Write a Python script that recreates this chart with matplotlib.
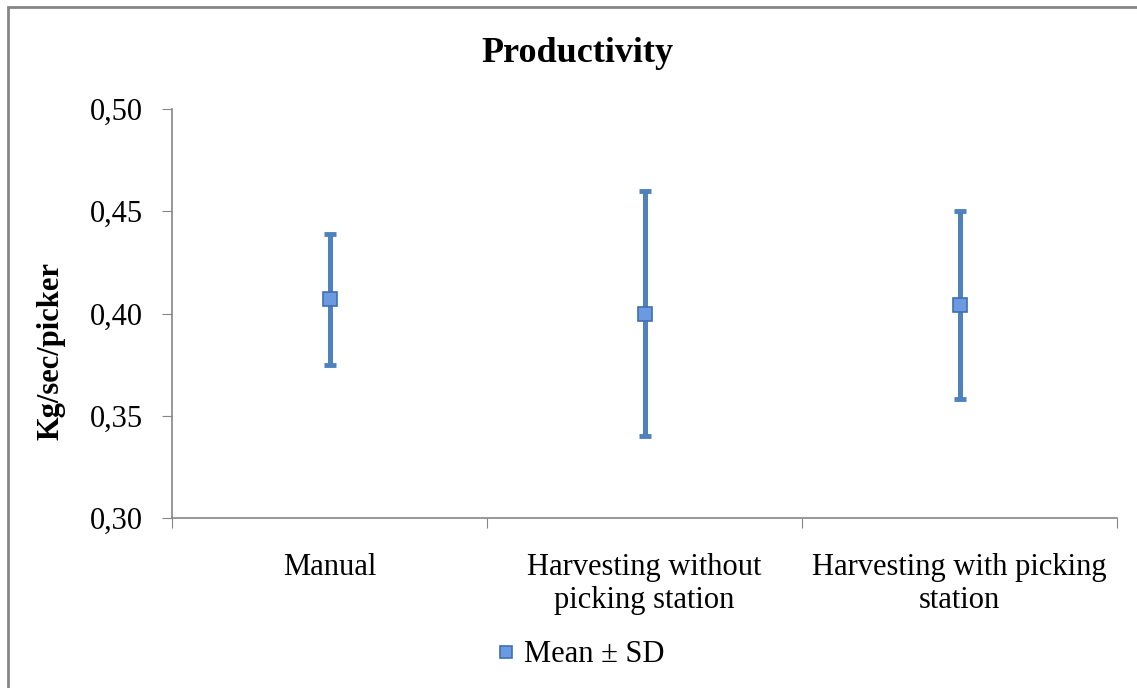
import matplotlib.pyplot as plt
from matplotlib.patches import Rectangle

categories = ['Manual', 'Harvesting without\npicking station', 'Harvesting with picking\nstation']
means = [0.407, 0.400, 0.404]
sds = [0.032, 0.060, 0.046]
yticks = [0.30, 0.35, 0.40, 0.45, 0.50]
ytick_labels = ['0,30', '0,35', '0,40', '0,45', '0,50']

plt.rcParams['font.family'] = ['Liberation Serif', 'DejaVu Serif']

fig = plt.figure(figsize=(11.37, 6.88), dpi=100)
fig.patches.append(Rectangle((8 / 1137, -0.1), 1.2, 681 / 688 + 0.1,
                             transform=fig.transFigure, fill=False,
                             edgecolor='#868686', linewidth=2))

ax = fig.add_axes([172 / 1137, 170 / 688, 945 / 1137, 409 / 688])
blue = '#4f81bd'
x = range(len(categories))
ax.errorbar(x, means, yerr=sds, fmt='none', ecolor=blue, elinewidth=3.6,
            capsize=4.5, capthick=3.5, zorder=2)
ax.plot(x, means, 's', markersize=10.5, markerfacecolor='#6b9ae0',
        markeredgecolor='#3f6fb0', markeredgewidth=1.2, zorder=3,
        label='Mean ± SD')

ax.set_xlim(-0.5, len(categories) - 0.5)
ax.set_ylim(0.30, 0.50)
ax.set_yticks(yticks)
ax.set_yticklabels(ytick_labels)
# boundaries between categories get the tick marks, labels sit in between
ax.set_xticks([i - 0.5 for i in range(len(categories) + 1)])
ax.set_xticklabels([])
ax.set_xticks(list(x), minor=True)
ax.set_xticklabels(categories, minor=True)
ax.tick_params(axis='x', which='minor', length=0, labelsize=22, pad=25)
ax.tick_params(axis='x', which='major', length=7, color='#868686', direction='out')
ax.tick_params(axis='y', length=7, color='#868686', labelsize=22, pad=14)

for s in ['top', 'right']:
    ax.spines[s].set_visible(False)
for s in ['left', 'bottom']:
    ax.spines[s].set_color('#868686')
    ax.spines[s].set_linewidth(1.2)

fig.text(51 / 1137, 1 - 351 / 688, 'Kg/sec/picker', fontsize=22, fontweight='bold',
         rotation=90, ha='center', va='center')
fig.text(577 / 1137, 1 - 53 / 688, 'Productivity', fontsize=26, fontweight='bold',
         ha='center', va='center')

fig.legend(loc='center', bbox_to_anchor=(581 / 1137, 1 - 655 / 688), frameon=False,
           fontsize=22, handlelength=0.6, handletextpad=0.3, markerscale=0.8)

fig.savefig('out.png', dpi=100)
